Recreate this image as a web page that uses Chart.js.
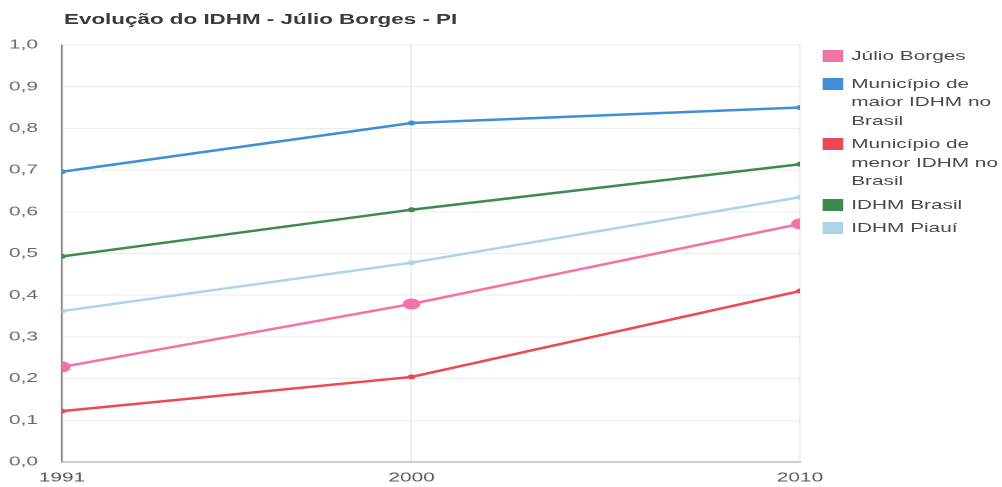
<!DOCTYPE html>
<html lang="pt-BR">
<head>
<meta charset="utf-8">
<title>Evolução do IDHM - Júlio Borges - PI</title>
<script src="https://cdn.jsdelivr.net/npm/chart.js@4/dist/chart.umd.min.js"></script>
<style>
  html, body { margin: 0; padding: 0; background: #fff; overflow: hidden; }
  /* the figure is laid out narrow and widened horizontally */
  #figure {
    position: relative; width: 626px; height: 487px;
    transform: scaleX(1.6); transform-origin: 0 0;
    font-family: "Liberation Sans", Arial, sans-serif;
  }
  #chart { position: absolute; left: 0; top: 0; }
  #title {
    position: absolute; left: 40px; top: 11px;
    font-size: 14px; font-weight: bold; color: #3a3a3a; white-space: nowrap;
  }
  #legend { position: absolute; left: 514px; top: 47px; width: 112px; }
  .item { position: relative; padding-left: 18px; margin-bottom: 5px;
          font-size: 13px; line-height: 18.5px; color: #4a4a4a; }
  .item:first-child { margin-bottom: 9px; }
  .swatch { position: absolute; left: 0; top: 3px; width: 13px; height: 12px; }
</style>
</head>
<body>
<div id="figure">
  <canvas id="chart" width="626" height="487"></canvas>
  <div id="title">Evolução do IDHM - Júlio Borges - PI</div>
  <div id="legend"></div>
</div>
<script>
// Census years and their axis labels
const years = [1991, 2000, 2010];
const yearLabels = ['1991', '2000', '2010'];

// IDHM values per series
const julioBorges = [0.228, 0.379, 0.571];
const maiorIdhm   = [0.696, 0.813, 0.850];
const menorIdhm   = [0.122, 0.204, 0.410];
const idhmBrasil  = [0.493, 0.605, 0.714];
const idhmPiaui   = [0.362, 0.478, 0.635];

const seriesNames = [
  'Júlio Borges',
  'Município de maior IDHM no Brasil',
  'Município de menor IDHM no Brasil',
  'IDHM Brasil',
  'IDHM Piauí'
];
const seriesColors = ['#f274a6', '#3f8fd8', '#ec4a52', '#3d8a4e', '#aed4e8'];
const seriesValues = [julioBorges, maiorIdhm, menorIdhm, idhmBrasil, idhmPiaui];
const pointSizes = [5.5, 2.5, 2.5, 2.5, 2.5];

// y-axis tick labels, 0,0 to 1,0
const yTickValues = [0, 0.1, 0.2, 0.3, 0.4, 0.5, 0.6, 0.7, 0.8, 0.9, 1.0];
const yTickLabels = ['0,0', '0,1', '0,2', '0,3', '0,4', '0,5', '0,6', '0,7', '0,8', '0,9', '1,0'];

const datasets = seriesNames.map((name, i) => ({
  label: name,
  data: years.map((yr, j) => ({ x: yr, y: seriesValues[i][j] })),
  borderColor: seriesColors[i],
  backgroundColor: seriesColors[i],
  pointBackgroundColor: seriesColors[i],
  pointBorderWidth: 0,
  pointRadius: pointSizes[i],
  borderWidth: 2.5,
  tension: 0,
  order: i
}));

new Chart(document.getElementById('chart'), {
  type: 'line',
  data: { datasets },
  options: {
    responsive: false,
    animation: false,
    devicePixelRatio: 2,
    layout: { padding: { top: 45, right: 126, bottom: 0, left: 0 } },
    plugins: { legend: { display: false }, title: { display: false }, tooltip: { enabled: false } },
    scales: {
      x: {
        type: 'linear',
        min: years[0],
        max: years[years.length - 1],
        afterBuildTicks: s => { s.ticks = years.map(v => ({ value: v })); },
        afterFit: s => { s.height = 25; },
        ticks: {
          callback: v => yearLabels[years.indexOf(v)],
          color: '#555', font: { family: 'Liberation Sans', size: 13 },
          padding: 8, maxRotation: 0, autoSkip: false
        },
        grid: { color: '#ececec', drawTicks: false },
        border: { color: '#9a9a9a', width: 1 }
      },
      y: {
        min: 0,
        max: 1,
        afterBuildTicks: s => { s.ticks = yTickValues.map(v => ({ value: v })); },
        afterFit: s => { s.width = 38.75; },
        ticks: {
          callback: v => yTickLabels[Math.round(v * 10)],
          color: '#6a6a6a', font: { family: 'Liberation Sans', size: 13 },
          padding: 15
        },
        grid: { color: '#ececec', drawTicks: false },
        border: { color: '#8a8a8a', width: 1.2 }
      }
    }
  }
});

// legend entries built from the series list
const legend = document.getElementById('legend');
seriesNames.forEach((name, i) => {
  const item = document.createElement('div');
  item.className = 'item';
  const sw = document.createElement('span');
  sw.className = 'swatch';
  sw.style.background = seriesColors[i];
  item.appendChild(sw);
  item.appendChild(document.createTextNode(name));
  legend.appendChild(item);
});
</script>
</body>
</html>
